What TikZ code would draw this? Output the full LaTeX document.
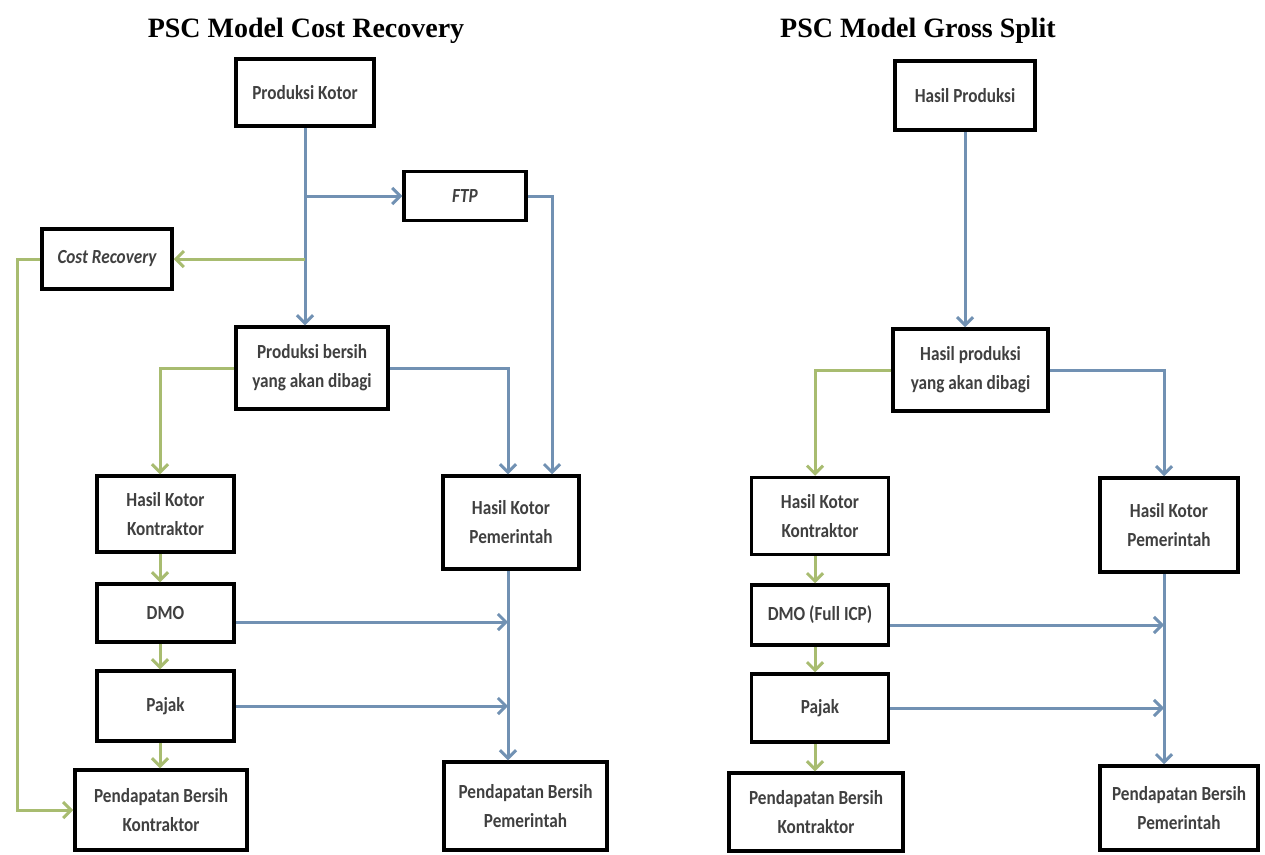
\documentclass[tikz,border=0pt]{standalone}
\usepackage{fontspec}
\setmainfont{Liberation Serif}
\newfontfamily\boxfont[FakeStretch=0.86]{Carlito}
\usetikzlibrary{arrows.meta}
\definecolor{lnblue}{HTML}{7191B3}
\definecolor{lngreen}{HTML}{A8BC70}
\begin{document}
\begin{tikzpicture}[x=1pt,y=-1pt,
  box/.style={draw=black, line width=3.5pt, fill=white, inner sep=2pt, align=center,
    font=\boxfont\bfseries\fontsize{20}{29}\selectfont, text=black!75},
  ttl/.style={font=\bfseries\fontsize{28}{32}\selectfont, text=black},
  bl/.style={draw=lnblue, line width=3pt, -{Straight Barb[length=8pt,width=16pt]}},
  gr/.style={draw=lngreen, line width=3pt, -{Straight Barb[length=8pt,width=16pt]}},
]
\useasboundingbox (0,0) rectangle (1265,854);
\fill[white] (0,0) rectangle (1265,854);

% titles
\node[ttl] (t1) at (306,31) {PSC Model Cost Recovery};
\node[ttl] (t2) at (918,31) {PSC Model Gross Split};

% ---------- left diagram ----------
\node[box, minimum width=138, minimum height=67] (pk) at (305,92.5) {Produksi Kotor};
\node[box, minimum width=122, minimum height=49] (ftp) at (465,196) {\itshape FTP};
\node[box, minimum width=130, minimum height=60] (cr) at (107,259) {\itshape Cost Recovery};
\node[box, minimum width=152, minimum height=82] (pb) at (312,368) {Produksi bersih\\yang akan dibagi};
\node[box, minimum width=137, minimum height=76] (hkk) at (165.5,514) {Hasil Kotor\\Kontraktor};
\node[box, minimum width=136, minimum height=93] (hkp) at (511,522.5) {Hasil Kotor\\Pemerintah};
\node[box, minimum width=137, minimum height=58] (dmo) at (165.5,613) {DMO};
\node[box, minimum width=137, minimum height=70] (paj) at (165.5,706) {Pajak};
\node[box, minimum width=172, minimum height=80] (pbk) at (161,810) {Pendapatan Bersih\\Kontraktor};
\node[box, minimum width=163, minimum height=88] (pbp) at (525.5,806) {Pendapatan Bersih\\Pemerintah};

\coordinate (bx) at (508,0);
\coordinate (fx) at (552,0);
\coordinate (gx) at (160,0);
\coordinate (lx) at (17,0);
\coordinate (dmoe) at ([yshift=-9pt]dmo.east);

\draw[bl] (pk.south) -- (pk.south |- pb.north);
\draw[bl] (pk.south |- ftp.west) -- (ftp.west);
\draw[gr] (pk.south |- cr.east) -- (cr.east);
\draw[bl] (ftp.east) -| (fx |- hkp.north);
\draw[bl] (pb.east) -| (bx |- hkp.north);
\draw[gr] (pb.west) -| (gx |- hkk.north);
\draw[gr] (cr.west) -- (lx |- cr.west) |- (pbk.west);
\draw[gr] (gx |- hkk.south) -- (gx |- dmo.north);
\draw[gr] (gx |- dmo.south) -- (gx |- paj.north);
\draw[gr] (gx |- paj.south) -- (gx |- pbk.north);
\draw[bl] (bx |- hkp.south) -- (bx |- pbp.north);
\draw[bl] (dmoe) -- (bx |- dmoe);
\draw[bl] (paj.east) -- (bx |- paj.east);

% ---------- right diagram ----------
\node[box, minimum width=140, minimum height=69] (hp) at (965,95.5) {Hasil Produksi};
\node[box, minimum width=155, minimum height=82] (hpd) at (970.5,370) {Hasil produksi\\yang akan dibagi};
\node[box, minimum width=137, minimum height=77] (hkk2) at (820,516) {Hasil Kotor\\Kontraktor};
\node[box, minimum width=138, minimum height=94] (hkp2) at (1169,525) {Hasil Kotor\\Pemerintah};
\node[box, minimum width=137, minimum height=60] (dmo2) at (820,615) {DMO (Full ICP)};
\node[box, minimum width=137, minimum height=68] (paj2) at (820,708) {Pajak};
\node[box, minimum width=174, minimum height=78] (pbk2) at (816,812) {Pendapatan Bersih\\Kontraktor};
\node[box, minimum width=158, minimum height=84] (pbp2) at (1179,808) {Pendapatan Bersih\\Pemerintah};

\coordinate (gx2) at (815,0);
\coordinate (bx2) at (1164,0);
\coordinate (dmoe2) at ([yshift=-10pt]dmo2.east);

\draw[bl] (hp.south) -- (hp.south |- hpd.north);
\draw[gr] (hpd.west) -| (gx2 |- hkk2.north);
\draw[bl] (hpd.east) -| (bx2 |- hkp2.north);
\draw[gr] (gx2 |- hkk2.south) -- (gx2 |- dmo2.north);
\draw[gr] (gx2 |- dmo2.south) -- (gx2 |- paj2.north);
\draw[gr] (gx2 |- paj2.south) -- (gx2 |- pbk2.north);
\draw[bl] (bx2 |- hkp2.south) -- (bx2 |- pbp2.north);
\draw[bl] (dmoe2) -- (bx2 |- dmoe2);
\draw[bl] (paj2.east) -- (bx2 |- paj2.east);
\end{tikzpicture}
\end{document}
